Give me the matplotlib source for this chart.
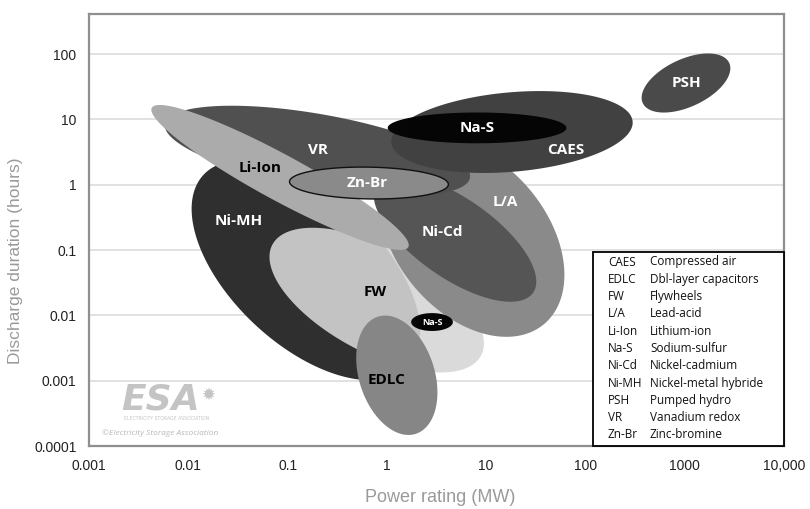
import numpy as np
import matplotlib
matplotlib.use("Agg")
import matplotlib.pyplot as plt
from matplotlib.patches import Rectangle
from matplotlib.ticker import FixedLocator, NullLocator

# ---------------- data ----------------
# technologies in drawing order (bottom -> top)
techs      = ["Ni-MH", "FW", "L/A", "Ni-Cd", "VR", "CAES", "Na-S", "Li-Ion", "Zn-Br", "EDLC", "Na-S", "PSH"]
center_mw  = [0.153, 0.79, 7.2, 4.85, 0.20, 18.2, 8.1, 0.084, 0.66, 1.26, 2.85, 1030]
center_h   = [0.049, 0.0171, 0.152, 0.152, 3.3, 6.4, 7.4, 1.29, 1.06, 0.00121, 0.0079, 36]
# semi-axes in decades (x-decade units), tilt in degrees (display, counter-clockwise)
semi_major = [1.41, 1.19, 1.13, 0.96, 1.56, 1.22, 0.90, 1.47, 0.80, 0.62, 0.21, 0.48]
semi_minor = [0.75, 0.53, 0.76, 0.40, 0.37, 0.40, 0.155, 0.23, 0.16, 0.38, 0.09, 0.24]
tilt_deg   = [-43, -28, -50, -35, -10, 5, 0, -28.5, -1, -72, 0, 25]

# label positions (MW, hours)
label_mw   = [0.032, 0.76, 15.5, 3.6, 0.20, 64, 8.1, 0.053, 0.63, 1.0, 2.85, 1050]
label_h    = [0.28, 0.0227, 0.54, 0.19, 3.4, 3.4, 7.4, 1.8, 1.06, 0.00102, 0.0079, 36]

legend_abbr = ["CAES", "EDLC", "FW", "L/A", "Li-Ion", "Na-S", "Ni-Cd", "Ni-MH", "PSH", "VR", "Zn-Br"]
legend_desc = ["Compressed air", "Dbl-layer capacitors", "Flywheels", "Lead-acid", "Lithium-ion",
               "Sodium-sulfur", "Nickel-cadmium", "Nickel-metal hybride", "Pumped hydro",
               "Vanadium redox", "Zinc-bromine"]

x_ticks = [0.001, 0.01, 0.1, 1, 10, 100, 1000, 10000]
x_tick_labels = ["0.001", "0.01", "0.1", "1", "10", "100", "1000", "10,000"]
y_ticks = [0.0001, 0.001, 0.01, 0.1, 1, 10, 100]
y_tick_labels = ["0.0001", "0.001", "0.01", "0.1", "1", "10", "100"]

# ---------------- styles ----------------
fill_colors = ["#2f2f2f", "#d6d6d6", "#8a8a8a", "#555555", "#505050", "#414141", "#050505",
               "#ababab", "#8a8a8a", "#868686", "#050505", "#4a4a4a"]
fill_alpha  = [1, 0.89, 1, 1, 1, 1, 1, 1, 1, 1, 1, 1]
edge_colors = ["none"] * 8 + ["#111111"] + ["none"] * 3
label_colors = ["white", "black", "white", "white", "white", "white", "white",
                "black", "white", "black", "white", "white"]
label_sizes = [11, 11, 11, 11, 11, 11, 11, 11, 11, 11, 6.5, 11]

fig = plt.figure(figsize=(8.10, 5.09), dpi=100)
ax = fig.add_axes([89/810, 1 - 446/509, 695/810, 432/509])
ax.set_xscale("log")
ax.set_yscale("log")
ymin, ymax = 1e-4, 10 ** (2 + 40/65.3)
ax.set_xlim(1e-3, 1e4)
ax.set_ylim(ymin, ymax)

# px per decade ratio (x / y)
bb = ax.get_window_extent()
ratio = (bb.width / 7.0) / (bb.height / np.log10(ymax / ymin))

def ellipse_xy(cx, cy, a, b, ang):
    t = np.linspace(0, 2 * np.pi, 400)
    th = np.deg2rad(ang)
    u = a * np.cos(t)
    v = b * np.sin(t)
    dx = u * np.cos(th) - v * np.sin(th)
    dy = (u * np.sin(th) + v * np.cos(th)) * ratio
    return 10 ** (np.log10(cx) + dx), 10 ** (np.log10(cy) + dy)

for i, name in enumerate(techs):
    xs, ys = ellipse_xy(center_mw[i], center_h[i], semi_major[i], semi_minor[i], tilt_deg[i])
    ax.fill(xs, ys, facecolor=fill_colors[i], alpha=fill_alpha[i],
            edgecolor=edge_colors[i], linewidth=1.0, zorder=2 + i * 0.01)

for i, name in enumerate(techs):
    ax.text(label_mw[i], label_h[i], name, color=label_colors[i], fontsize=label_sizes[i],
            fontfamily="Open Sans", fontweight="bold", ha="center", va="center", zorder=5)

# grid, spines, ticks
ax.yaxis.set_major_locator(FixedLocator(y_ticks))
ax.xaxis.set_major_locator(FixedLocator(x_ticks))
ax.xaxis.set_minor_locator(NullLocator())
ax.yaxis.set_minor_locator(NullLocator())
ax.set_xticklabels(x_tick_labels)
ax.set_yticklabels(y_tick_labels)
for lab in ax.get_xticklabels() + ax.get_yticklabels():
    lab.set_fontfamily("Liberation Sans")
    lab.set_fontsize(10)
    lab.set_color("#222222")
ax.tick_params(length=0)
ax.tick_params(axis="x", pad=9)
ax.tick_params(axis="y", pad=9)
ax.grid(axis="y", color="#dedede", linewidth=1.3, zorder=0)
ax.set_axisbelow(True)
for s in ax.spines.values():
    s.set_color("#8f8f8f")
    s.set_linewidth(1.6)

fig.text(440/810, 1 - 498/509, "Power rating (MW)", ha="center", va="center",
         fontsize=13, color="#9a9a9a", fontfamily="Liberation Sans")
fig.text(16/810, 1 - 261/509, "Discharge duration (hours)", ha="center", va="center",
         rotation=90, fontsize=12.5, color="#9a9a9a", fontfamily="Liberation Sans")

# ESA logo (text)
ax.text(0.046, 0.108, "ESA", transform=ax.transAxes, fontsize=26, fontweight="bold",
        fontstyle="italic", color="#c4c4c4", fontfamily="DejaVu Sans", ha="left", va="center", zorder=1)
ax.text(0.172, 0.118, "\u2739", transform=ax.transAxes, fontsize=12,
        color="#c4c4c4", fontfamily="DejaVu Sans", ha="center", va="center", zorder=1)
ax.text(0.050, 0.064, "ELECTRICITY STORAGE ASSOCIATION", transform=ax.transAxes, fontsize=3.3,
        color="#c4c4c4", fontfamily="DejaVu Sans", ha="left", va="center", zorder=1)
ax.text(0.019, 0.03, "©Electricity Storage Association", transform=ax.transAxes, fontsize=6,
        fontstyle="italic", color="#b8b8b8", fontfamily="Open Sans", ha="left", va="center", zorder=1)

# legend box
lx0 = (593 - 89) / 695
ly1 = (446 - 252) / 432
ax.add_patch(Rectangle((lx0, 0.0), 1 - lx0, ly1, transform=ax.transAxes, facecolor="white",
                       edgecolor="black", linewidth=1.3, zorder=6, clip_on=False))
top = (446 - 262) / 432
step = (top - (446 - 435) / 432) / (len(legend_abbr) - 1)
for k, (ab, ds) in enumerate(zip(legend_abbr, legend_desc)):
    yy = top - k * step
    ax.text((608 - 89) / 695, yy, ab, transform=ax.transAxes, fontsize=8.5, color="#111111",
            fontfamily="Open Sans", ha="left", va="center", zorder=7)
    ax.text((650 - 89) / 695, yy, ds, transform=ax.transAxes, fontsize=8.5, color="#111111",
            fontfamily="Open Sans", ha="left", va="center", zorder=7)

fig.savefig("out.png", dpi=100)
